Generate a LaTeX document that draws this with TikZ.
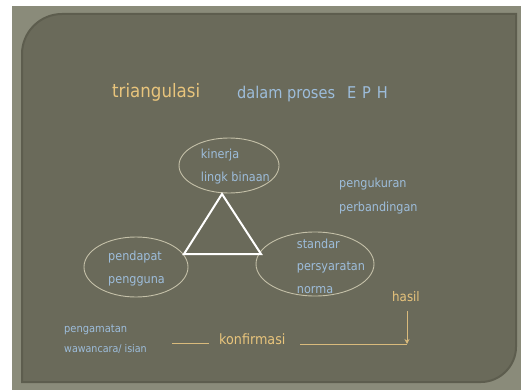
\documentclass[tikz,border=0pt]{standalone}
\usepackage{fontspec}
\setmainfont{DejaVu Sans Condensed}
\usetikzlibrary{arrows.meta,shapes.geometric}
\definecolor{outerbg}{HTML}{8A8B7A}
\definecolor{panel}{HTML}{6A6A5A}
\definecolor{panelrim}{HTML}{5D5D4E}
\definecolor{txtorange}{HTML}{E8C47C}
\definecolor{txtblue}{HTML}{9DBDDB}
\definecolor{ellline}{HTML}{C4C0A8}
\definecolor{lineor}{HTML}{D9BA7C}
\begin{document}
\begin{tikzpicture}[x=1pt,y=-1pt,
  lbl/.style={anchor=base west,inner sep=0pt,text=txtblue,font=\fontsize{12.5}{14}\selectfont},
  small/.style={anchor=base west,inner sep=0pt,text=txtblue,font=\fontsize{10.6}{12}\selectfont},
  orlbl/.style={anchor=base west,inner sep=0pt,text=txtorange},
  ell/.style={ellipse,draw=ellline,line width=0.9pt,inner sep=0pt},
  tri/.style={draw=white,line width=2pt,line join=miter},
  conn/.style={draw=lineor,line width=1pt}
]
\useasboundingbox (0,0) rectangle (521,390);
\fill[white] (0,0) rectangle (521,390);
\fill[outerbg] (12,6) rectangle (521,390);
\filldraw[fill=panel,draw=panelrim,line width=2pt]
  (22,382) -- (22,54) .. controls (22,32) and (40,14) .. (62,14) -- (516,14)
  -- (516,347) .. controls (516,366) and (500,382) .. (481,382) -- cycle;

% title
\node[orlbl,font=\fontsize{18.5}{20}\selectfont] (title) at (112,98) {triangulasi};
\node[lbl,font=\fontsize{16.2}{18}\selectfont] (sub) at (237,98.3) {dalam proses};
\node[lbl,font=\fontsize{16.2}{18}\selectfont] (eph) at (347,98.3) {E\hspace{5.8pt}P\hspace{5.8pt}H};

% ellipses
\node[ell,minimum width=100pt,minimum height=55pt] (top) at (229,165.5) {};
\node[ell,minimum width=104pt,minimum height=60pt] (left) at (136,267) {};
\node[ell,minimum width=118pt,minimum height=64pt] (right) at (315,264) {};

% triangle
\coordinate (ta) at (222,194);
\coordinate (tb) at (184,254);
\coordinate (tc) at (261,254);
\draw[tri] (ta) -- (tb) -- (tc) -- cycle;

% ellipse texts
\node[lbl] (k1) at (200.7,158) {kinerja};
\node[lbl] (k2) at (200.7,181) {lingk binaan};
\node[lbl] (p1) at (108,260.7) {pendapat};
\node[lbl] (p2) at (108,283) {pengguna};
\node[lbl] (s1) at (296.7,248) {standar};
\node[lbl] (s2) at (296.7,270.5) {persyaratan};
\node[lbl] (s3) at (296.7,293) {norma};
\node[lbl] (u1) at (339,187) {pengukuran};
\node[lbl] (u2) at (339,211) {perbandingan};

% bottom
\node[orlbl,font=\fontsize{13.2}{15}\selectfont] (hasil) at (392,301) {hasil};
\node[orlbl,font=\fontsize{14.2}{16}\selectfont] (konf) at (219,344) {konfirmasi};
\node[small,font=\fontsize{11}{12}\selectfont] (w1) at (64,332) {pengamatan};
\node[small] (w2) at (64,352.7) {wawancara/ isian};

\coordinate (l1) at (172,343.3);
\coordinate (l2) at (209,343.3);
\coordinate (r1) at (300,344);
\coordinate (r2) at (407,344);
\coordinate (v1) at (407,311);
\draw[conn] (l1) -- (l2);
\draw[conn] (r1) -- (r2);
\draw[conn,-{Stealth[length=5pt,width=5pt]}] (v1) -- (r2);
\end{tikzpicture}
\end{document}
